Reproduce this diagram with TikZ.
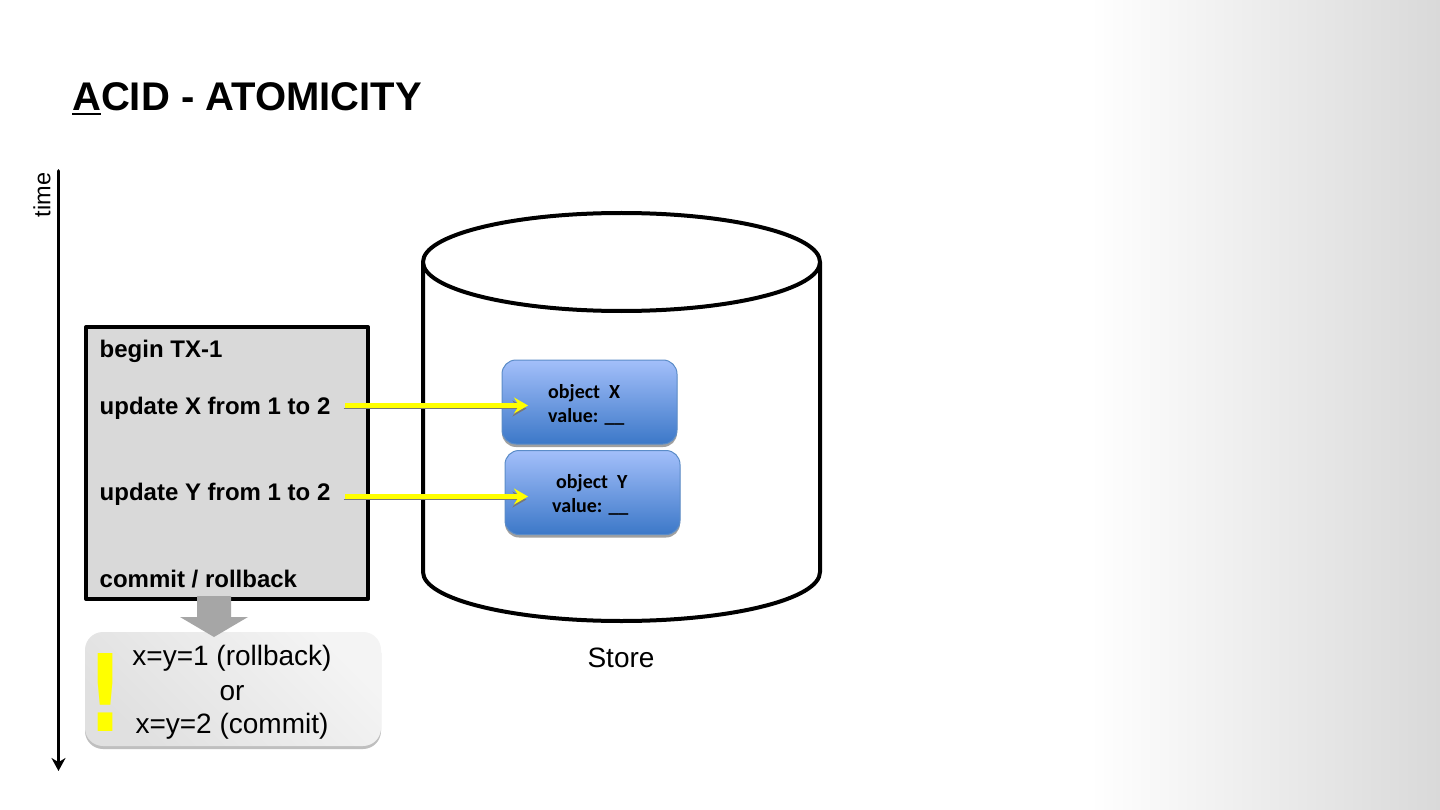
\documentclass[tikz,border=0pt]{standalone}
\usepackage{fontspec}
\setmainfont{Liberation Sans}
\newfontfamily\objfont{Carlito}
\newfontfamily\bangfont{DejaVu Sans}
\usetikzlibrary{arrows.meta,calc}
\definecolor{bandgray}{HTML}{D9D9D9}
\definecolor{boxgray}{HTML}{D9D9D9}
\definecolor{objtop}{HTML}{A3BFFA}
\definecolor{objbot}{HTML}{3C78C8}
\definecolor{objedge}{HTML}{5B8CC8}
\definecolor{shadowgray}{HTML}{A0A0A0}
\definecolor{blockgray}{HTML}{A6A6A6}
\definecolor{calltop}{HTML}{F4F4F4}
\definecolor{callbot}{HTML}{E0E0E0}
\definecolor{pureyellow}{HTML}{FFFF00}
\newcommand{\ulA}{\leavevmode\setbox0\hbox{A}\rlap{\rule[-4.5pt]{\wd0}{2.4pt}}\box0}
\tikzset{
  x=1pt,y=-1pt,
  heavy/.style={line width=4pt,draw=black,line join=round},
  bodytext/.style={anchor=base west,inner sep=0pt,font=\fontsize{24}{28}\selectfont\bfseries},
  plaintext/.style={anchor=base,inner sep=0pt,font=\fontsize{28}{32}\selectfont},
  objbox/.style={draw=objedge,line width=1pt,rounded corners=14pt,minimum width=175pt,minimum height=84pt,
    inner sep=0pt,top color=objtop,bottom color=objbot,
    preaction={fill=shadowgray,draw=none,transform canvas={yshift=-3pt}}},
  objtext/.style={anchor=base west,inner sep=0pt,font=\objfont\fontsize{20}{24}\selectfont\bfseries},
  updarrow/.style={draw=pureyellow,line width=4.4pt,-{Stealth[length=14pt,width=16pt,inset=5pt]},
    preaction={draw=shadowgray!75!black,transform canvas={xshift=-1.5pt,yshift=-3pt}}},
}
\begin{document}
\begin{tikzpicture}
\useasboundingbox (0,0) rectangle (1440,810);
\fill[white] (0,0) rectangle (1440,810);
\shade[left color=white,right color=bandgray,draw=none] (1090,0) rectangle (1440,810);

% title
\node[anchor=base west,inner sep=0pt,font=\fontsize{40}{46}\selectfont\bfseries] (title) at (72,111) {\ulA CID - ATOMICITY};

% time axis
\coordinate (tstart) at (58.5,171);
\coordinate (tend) at (58.5,771);
\draw[line width=3.8pt,line cap=round,-{Stealth[length=13pt,width=14pt]}] (tstart) -- (tend);
\node[rotate=90,inner sep=0pt,font=\fontsize{23.5}{27}\selectfont] (timelab) at (42,195) {time};

% store cylinder
\draw[heavy,fill=white] (423,262) -- (423,572) arc[start angle=180,end angle=0,x radius=198.5,y radius=49] -- (820,262);
\draw[heavy,fill=white] (621.5,262) ellipse[x radius=198.5,y radius=49];
\node[plaintext] (store) at (621,667) {Store};

% transaction box
\node[heavy,fill=boxgray,rectangle,minimum width=282pt,minimum height=272pt,inner sep=0pt] (tx) at (227,463) {};
\node[bodytext] (begin) at (99.5,357) {begin TX-1};
\node[bodytext] (updx) at (99.5,414) {update X from 1 to 2};
\node[bodytext] (updy) at (99.5,500) {update Y from 1 to 2};
\node[bodytext] (commit) at (99.5,587) {commit / rollback};

% objects
\node[objbox] (objx) at (589.5,402) {};
\node[objbox] (objy) at (592.5,492.5) {};
\node[objtext] (objxa) at (548,398) {object~~X};
\node[objtext] (objxb) at (548,422) {value: \_\_};
\node[objtext] (objya) at (556,488) {object~~Y};
\node[objtext] (objyb) at (552,512) {value: \_\_};

% update arrows
\coordinate (ax) at (345,405.5);
\coordinate (ay) at (345,496.5);
\coordinate (bx) at (528,405.5);
\coordinate (by) at (528,496.5);
\draw[updarrow] (ax) -- (bx);
\draw[updarrow] (ay) -- (by);

% result callout
\node[rectangle,rounded corners=18pt,minimum width=296pt,minimum height=114pt,inner sep=0pt,
  top color=calltop,bottom color=callbot,shading angle=315,
  preaction={fill=black!25,transform canvas={yshift=-3pt}}] (call) at (233,689) {};
\node[plaintext] (l1) at (232,665) {x=y=1 (rollback)};
\node[plaintext] (l2) at (232,700) {or};
\node[plaintext] (l3) at (232,733) {x=y=2 (commit)};
\node[anchor=base,inner sep=0pt,text=pureyellow,font=\bangfont\fontsize{107}{110}\selectfont\bfseries] (bang) at (106,731) {\scalebox{0.78}[1]{!}};

% block arrow
\fill[blockgray] (197,596) -- (231,596) -- (231,617) -- (248,617) -- (214,637) -- (180,617) -- (197,617) -- cycle;
\end{tikzpicture}
\end{document}
